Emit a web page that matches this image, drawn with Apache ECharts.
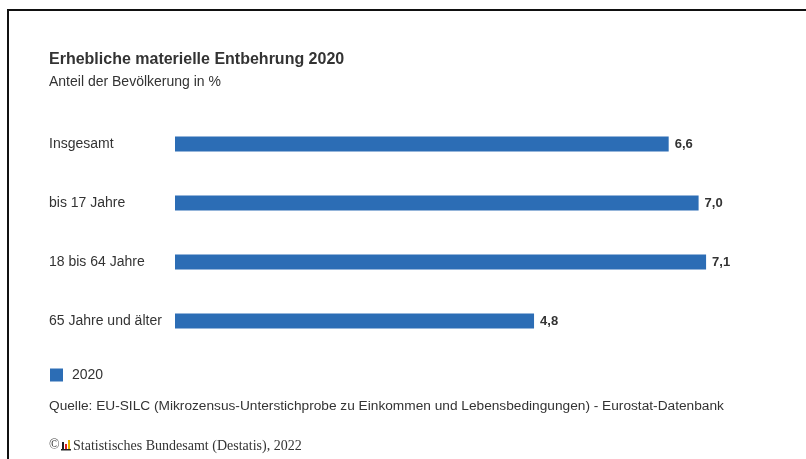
<!DOCTYPE html>
<html>
<head>
<meta charset="utf-8">
<script src="https://cdn.jsdelivr.net/npm/echarts@6/dist/echarts.min.js"></script>
<style>
html,body{margin:0;padding:0;background:#fff;}
#c{width:806px;height:459px;}
</style>
</head>
<body>
<div id="c"></div>
<script>
const categories = ['Insgesamt', 'bis 17 Jahre', '18 bis 64 Jahre', '65 Jahre und älter'];
const values2020 = [6.6, 7.0, 7.1, 4.8];
const seriesName = '2020';

const chart = echarts.init(document.getElementById('c'), null, {renderer: 'canvas'});
const txt = '#333333';
const font = 'Liberation Sans, Arial, sans-serif';
chart.setOption({
  backgroundColor: '#ffffff',
  animation: false,
  title: {
    text: 'Erhebliche materielle Entbehrung 2020',
    subtext: 'Anteil der Bevölkerung in %',
    left: 44, top: 47,
    itemGap: 7,
    textStyle: {fontFamily: font, fontSize: 16, fontWeight: 'bold', color: txt},
    subtextStyle: {fontFamily: font, fontSize: 14, color: txt}
  },
  legend: {
    left: 45, top: 363,
    itemWidth: 13, itemHeight: 13, itemGap: 6,
    icon: 'rect',
    textStyle: {fontFamily: font, fontSize: 14, color: txt, padding: [0, 0, 0, 4]},
    data: [seriesName]
  },
  grid: {left: 175, top: 114.5, height: 236, width: 598.4},
  xAxis: {type: 'value', min: 0, max: 8, show: false},
  yAxis: {
    type: 'category', data: categories, inverse: true,
    axisLine: {show: false}, axisTick: {show: false},
    axisLabel: {align: 'left', margin: 126, fontFamily: font, fontSize: 14, color: txt, padding: [3, 0, 0, 0]}
  },
  series: [{
    name: seriesName, type: 'bar', data: values2020, barWidth: 15,
    itemStyle: {color: '#2C6DB5'},
    label: {
      show: true, position: 'right', distance: 6,
      fontFamily: font, fontSize: 13, fontWeight: 'bold', color: txt,
      formatter: p => p.value.toFixed(1).replace('.', ',')
    }
  }],
  graphic: [
    {type: 'line', shape: {x1: 7, y1: 10, x2: 806, y2: 10}, style: {stroke: '#111', lineWidth: 2}},
    {type: 'line', shape: {x1: 8, y1: 9, x2: 8, y2: 459}, style: {stroke: '#111', lineWidth: 2}},
    {type: 'text', left: 49, top: 399, style: {text: 'Quelle: EU-SILC (Mikrozensus-Unterstichprobe zu Einkommen und Lebensbedingungen) - Eurostat-Datenbank', font: '13.7px ' + font, fill: txt}},
    {type: 'text', left: 49, top: 438, style: {text: '©', font: '14px Liberation Serif, serif', fill: '#444'}},
    {type: 'rect', shape: {x: 62, y: 442, width: 2, height: 8}, style: {fill: '#222'}},
    {type: 'rect', shape: {x: 65, y: 444, width: 2, height: 6}, style: {fill: '#d22'}},
    {type: 'rect', shape: {x: 68, y: 440, width: 2, height: 10}, style: {fill: '#e8b400'}},
    {type: 'rect', shape: {x: 61, y: 449, width: 10, height: 1.5}, style: {fill: '#222'}},
    {type: 'text', left: 73, top: 439, style: {text: 'Statistisches Bundesamt (Destatis), 2022', font: '14px Liberation Serif, serif', fill: txt}}
  ]
});
</script>
</body>
</html>
